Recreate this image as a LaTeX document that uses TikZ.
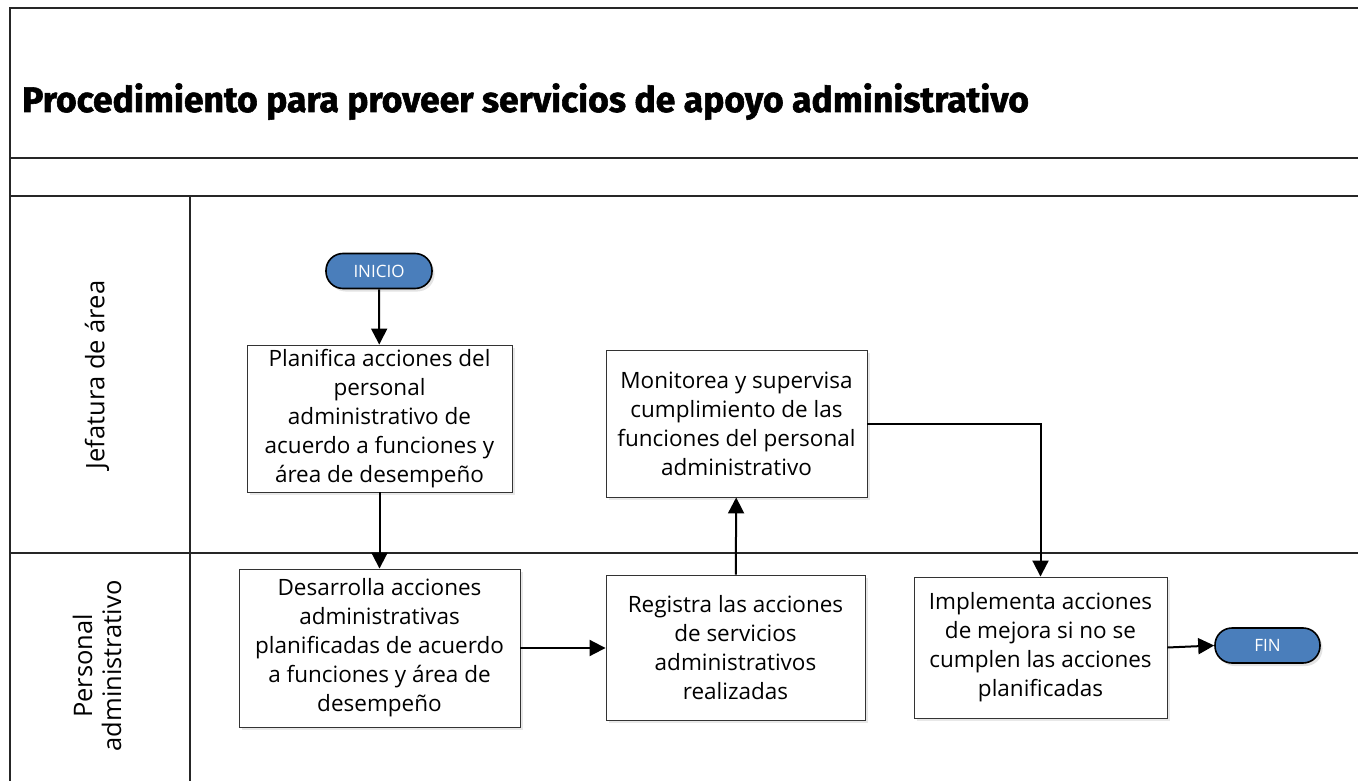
\documentclass[tikz,border=0pt]{standalone}
\usepackage{fontspec}
\setmainfont{Open Sans}
\newfontfamily\titlefont{Fira Sans}[BoldFeatures={FakeBold=1.6}]
\usetikzlibrary{arrows.meta,shadows}
\definecolor{pillblue}{RGB}{74,126,187}
\begin{document}
\begin{tikzpicture}[x=1pt,y=-1pt,
  frame/.style={line width=2pt, draw=black!85},
  box/.style={draw=black!80, line width=0.9pt, fill=white, align=center, inner sep=2pt,
    font=\fontsize{22.5}{29}\selectfont,
    drop shadow={opacity=0.18, shadow xshift=2.5pt, shadow yshift=-2.5pt}},
  pill/.style={draw=black, line width=1.6pt, fill=pillblue, rounded corners=17pt,
    minimum width=106pt, minimum height=35pt, inner sep=0pt, text=white,
    font=\fontsize{17}{20}\selectfont,
    drop shadow={opacity=0.22, shadow xshift=2.5pt, shadow yshift=-3pt}},
  arr/.style={line width=2pt, -{Triangle[length=16pt,width=16pt]}},
  lane/.style={rotate=90, align=center, font=\fontsize{25.5}{29}\selectfont},
  ttl/.style={anchor=base west, inner sep=0pt, font=\titlefont\bfseries\fontsize{35.5}{40}\selectfont}]
\useasboundingbox (0,0) rectangle (1358,781);
% frame and swimlanes
\draw[frame] (1370,8) -- (10,8) -- (10,790);
\draw[frame] (10,158) -- (1370,158);
\draw[frame] (10,196) -- (1370,196);
\draw[frame] (190,196) -- (190,790);
\draw[frame] (10,553) -- (1370,553);
% title
\node[ttl] (title) at (22,112) {Procedimiento para proveer servicios de apoyo administrativo};
\node[anchor=base west, inner sep=0pt, text=white, font=\fontsize{20}{24}\selectfont] (fase) at (1315,186) {Fas};
% lane labels
\node[lane] (jef) at (97,375) {Jefatura de área};
\node[lane] (per) at (97,666) {Personal\\administrativo};
% nodes
\node[pill] (inicio) at (379,271) {INICIO};
\node[box, minimum width=265pt, minimum height=147pt] (plan) at (379.5,418.5)
  {Planifica acciones del\\personal\\administrativo de\\acuerdo a funciones y\\área de desempeño};
\node[box, minimum width=281pt, minimum height=158pt] (desa) at (379.5,648)
  {Desarrolla acciones\\administrativas\\planificadas de acuerdo\\a funciones y área de\\desempeño};
\node[box, minimum width=259pt, minimum height=145pt] (reg) at (735.5,647.5)
  {Registra las acciones\\de servicios\\administrativos\\realizadas};
\node[box, minimum width=261pt, minimum height=147pt] (mon) at (736.5,423.5)
  {Monitorea y supervisa\\cumplimiento de las\\funciones del personal\\administrativo};
\node[box, minimum width=253pt, minimum height=141pt] (impl) at (1040.5,647.5)
  {Implementa acciones\\de mejora si no se\\cumplen las acciones\\planificadas};
\node[pill, minimum width=105pt] (fin) at (1267.5,645.5) {FIN};
% connectors
\draw[arr] (inicio) -- (plan);
\draw[arr] (plan) -- (desa);
\draw[arr] (desa.east) -- (desa.east -| reg.west);
\draw[arr] (reg) -- (mon);
\draw[arr] (mon.east) -| (impl.north);
\draw[arr] (impl.east) -- (fin.west);
\end{tikzpicture}
\end{document}
